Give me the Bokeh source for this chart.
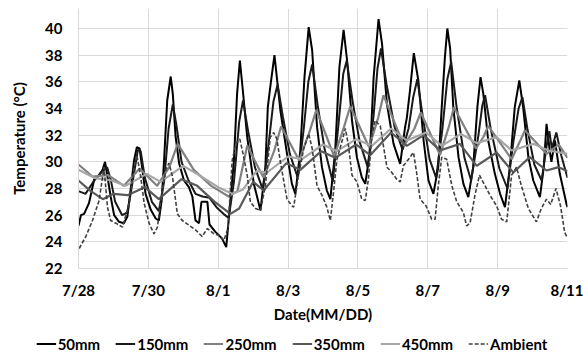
from bokeh.plotting import figure
from bokeh.models import Legend, LegendItem, FixedTicker, Range1d
from bokeh.layouts import column
from bokeh.embed import file_html
from bokeh.resources import INLINE

# ---- data (time in days from 7/28 00:00, temperature in degC) ----
tick_days = [0, 2, 4, 6, 8, 10, 12, 14]
tick_labels = ["7/28", "7/30", "8/1", "8/3", "8/5", "8/7", "8/9", "8/11"]
temp_ticks = [22, 24, 26, 28, 30, 32, 34, 36, 38, 40]

t_50 = [0.00, 0.07, 0.16, 0.30, 0.45, 0.59, 0.69, 0.76, 0.83, 0.92, 1.02, 1.16, 1.30, 1.40, 1.50,
        1.59, 1.67, 1.75, 1.83, 1.92, 2.07, 2.21, 2.30, 2.38, 2.45, 2.54, 2.64, 2.70, 2.78, 2.88,
        3.02, 3.16, 3.26, 3.35, 3.45, 3.52, 3.69, 3.75, 3.92, 4.11, 4.23, 4.35, 4.45, 4.54, 4.62,
        4.70, 4.83, 5.02, 5.21, 5.35, 5.42, 5.49, 5.61, 5.78, 5.97, 6.11, 6.21, 6.35, 6.47, 6.59,
        6.69, 6.83, 6.97, 7.11, 7.21, 7.35, 7.47, 7.59, 7.69, 7.83, 7.97, 8.11, 8.21, 8.35, 8.45,
        8.59, 8.69, 8.83, 9.02, 9.21, 9.35, 9.40, 9.49, 9.60, 9.73, 9.88, 10.02, 10.16, 10.30, 10.40,
        10.49, 10.56, 10.64, 10.73, 10.88, 11.02, 11.16, 11.30, 11.42, 11.51, 11.59, 11.73, 11.92,
        12.07, 12.21, 12.35, 12.49, 12.62, 12.73, 12.88, 13.02, 13.21, 13.32, 13.40, 13.49, 13.54,
        13.64, 13.78, 13.97, 14.00]
v_50 = [25.2, 26.0, 26.1, 26.9, 28.7, 29.0, 29.4, 30.0, 28.9, 27.4, 26.0, 25.5, 25.4, 25.9, 28.1,
        30.1, 31.1, 31.0, 29.4, 27.6, 26.4, 25.75, 25.6, 27.1, 30.1, 34.6, 36.4, 35.1, 31.9, 29.9,
        28.6, 28.1, 27.4, 25.6, 25.4, 27.0, 27.0, 25.3, 24.75, 24.25, 23.6, 27.1, 30.1, 35.1, 37.6,
        35.5, 31.85, 28.35, 26.35, 29.6, 34.1, 35.6, 38.0, 33.85, 30.6, 28.35, 27.6, 30.85, 36.35, 40.1,
        38.35, 32.6, 29.6, 27.85, 27.2, 30.85, 37.1, 39.9, 37.6, 33.1, 30.35, 28.85, 28.35, 30.85, 36.35,
        40.7, 38.85, 34.35, 31.35, 29.85, 32.6, 33.3, 35.35, 38.15, 36.1, 31.6, 28.6, 27.6, 29.6, 34.1,
        37.85, 40.0, 38.5, 34.1, 30.35, 28.35, 27.35, 29.6, 34.1, 36.35, 35.1, 31.6, 29.1,
        27.6, 26.6, 29.6, 34.1, 36.1, 34.1, 30.35, 28.6, 27.35, 29.6, 32.85, 30.85, 30.0,
        31.6, 29.1, 26.85, 26.6]

t_150 = [0.00, 0.20, 0.45, 0.65, 0.82, 0.92, 1.05, 1.25, 1.40, 1.55, 1.70, 1.78, 1.90, 2.10, 2.30,
         2.45, 2.58, 2.70, 2.80, 2.95, 3.15, 3.35, 3.55, 3.75, 3.95, 4.15, 4.30, 4.45, 4.60, 4.71,
         4.85, 5.05, 5.28, 5.45, 5.58, 5.70, 5.85, 6.05, 6.28, 6.45, 6.58, 6.69, 6.85, 7.05, 7.28,
         7.45, 7.58, 7.68, 7.85, 8.05, 8.28, 8.45, 8.56, 8.66, 8.82, 9.05, 9.28, 9.45, 9.58, 9.70,
         9.85, 10.05, 10.24, 10.42, 10.56, 10.67, 10.82, 11.05, 11.24, 11.45, 11.56, 11.64, 11.80,
         12.05, 12.28, 12.45, 12.60, 12.71, 12.85, 13.05, 13.26, 13.42, 13.48, 13.55, 13.68, 13.82, 14.00]
v_150 = [27.8, 27.6, 28.6, 29.2, 29.6, 28.7, 27.0, 26.0, 26.2, 28.5, 30.9, 30.8, 28.8, 27.0, 26.3,
         28.5, 32.5, 34.3, 32.8, 30.0, 28.6, 27.6, 27.4, 27.3, 26.6, 26.1, 25.8, 28.5, 33.0, 34.6,
         32.4, 29.6, 27.9, 31.5, 34.5, 35.8, 33.4, 30.6, 28.8, 32.5, 36.0, 37.3, 34.2, 30.9, 28.5,
         33.0, 36.6, 37.6, 34.5, 31.5, 29.6, 33.5, 37.0, 38.5, 35.8, 32.6, 30.9, 32.5, 34.8, 36.2,
         33.5, 30.2, 28.8, 32.5, 36.2, 37.5, 34.2, 30.3, 28.6, 32.0, 34.2, 35.0, 32.5,
         29.5, 28.0, 31.5, 34.0, 34.85, 32.5, 29.8, 28.6, 31.5, 32.3, 31.0, 32.2, 30.5, 28.8]

t_250 = [0.00, 0.40, 0.85, 1.30, 1.75, 2.25, 2.60, 2.84, 3.30, 3.80, 4.30, 4.55, 4.83, 5.30, 5.60,
         5.80, 6.32, 6.62, 6.81, 7.32, 7.60, 7.78, 8.32, 8.58, 8.73, 9.32, 9.62, 9.80, 10.35, 10.60,
         10.75, 11.38, 11.60, 11.73, 12.40, 12.65, 12.78, 13.40, 13.75, 14.00]
v_250 = [29.8, 28.9, 29.0, 28.2, 29.5, 28.2, 29.6, 31.35, 29.4, 28.2, 27.4, 27.8, 31.2, 28.8, 30.8,
         32.65, 30.1, 32.3, 33.9, 30.4, 32.6, 34.15, 31.1, 33.3, 35.0, 31.2, 32.5, 33.7, 30.5, 32.6,
         34.1, 31.0, 31.9, 32.7, 30.2, 31.6, 32.35, 30.6, 31.3, 30.3]

t_350 = [0.00, 0.35, 0.70, 1.00, 1.40, 1.90, 2.30, 2.95, 3.40, 3.90, 4.35, 4.60, 5.00, 5.30, 5.95,
         6.35, 6.95, 7.35, 7.95, 8.35, 8.95, 9.40, 9.88, 10.35, 10.92, 11.40, 11.97, 12.45, 12.92,
         13.40, 13.75, 14.00]
v_350 = [28.6, 27.8, 27.2, 27.6, 27.5, 28.1, 27.2, 28.7, 28.2, 27.0, 26.1, 26.5, 28.5, 27.85, 29.9,
         29.4, 30.8, 30.3, 31.3, 30.5, 32.2, 31.2, 32.0, 30.85, 31.35, 29.7, 30.7, 29.2, 30.35,
         29.35, 29.6, 29.3]

t_450 = [0.00, 0.45, 0.95, 1.35, 1.95, 2.35, 3.00, 3.45, 4.00, 4.40, 4.70, 5.10, 5.40, 6.00, 6.40,
         7.00, 7.40, 7.95, 8.40, 8.95, 9.40, 9.95, 10.40, 10.95, 11.40, 11.97, 12.40, 13.02, 13.45, 14.00]
v_450 = [29.4, 28.8, 28.6, 28.2, 29.1, 28.5, 29.7, 29.0, 28.1, 27.6, 27.9, 29.3, 29.2, 30.4, 30.2,
         31.3, 30.8, 31.7, 31.2, 32.5, 31.6, 32.2, 31.2, 32.1, 31.4, 31.85, 30.85, 31.35, 30.85, 30.6]

t_amb = [0.02, 0.21, 0.40, 0.59, 0.73, 0.83, 0.92, 1.07, 1.26, 1.45, 1.59, 1.67, 1.78, 1.88, 2.02,
         2.16, 2.26, 2.38, 2.50, 2.59, 2.69, 2.83, 2.97, 3.16, 3.35, 3.54, 3.69, 3.88, 4.02, 4.16,
         4.28, 4.40, 4.51, 4.62, 4.72, 4.83, 4.92, 5.07, 5.21, 5.35, 5.49, 5.59, 5.68, 5.78, 5.88,
         5.97, 6.11, 6.16, 6.30, 6.45, 6.59, 6.69, 6.83, 6.97, 7.11, 7.21, 7.30, 7.40, 7.54, 7.64,
         7.73, 7.83, 7.97, 8.11, 8.21, 8.30, 8.40, 8.49, 8.64, 8.73, 8.83, 8.97, 9.11, 9.21, 9.30,
         9.45, 9.59, 9.68, 9.78, 9.95, 10.11, 10.21, 10.30, 10.40, 10.54, 10.69, 10.83, 11.02, 11.11,
         11.21, 11.35, 11.48, 11.64, 11.78, 11.97, 12.11, 12.26, 12.40, 12.54, 12.68, 12.88, 13.11,
         13.25, 13.40, 13.52, 13.67, 13.80, 13.92, 14.00]
v_amb = [23.5, 24.4, 25.6, 27.1, 29.6, 26.6, 25.6, 25.4, 25.1, 26.9, 29.6, 30.5, 28.9, 26.9, 25.4,
         24.6, 25.1, 27.6, 29.4, 29.9, 28.9, 26.1, 25.6, 25.25, 24.9, 24.4, 25.0, 24.6, 24.5, 24.1,
         25.0, 30.1, 31.4, 31.7, 30.5, 29.0, 27.0, 26.5, 26.35, 28.2, 31.85, 32.2, 31.7, 30.0, 28.5,
         27.2, 26.7, 26.6, 29.0, 31.0, 32.1, 31.0, 28.2, 27.5, 26.6, 25.6, 27.7, 30.2, 31.5, 32.5,
         31.2, 29.0, 28.5, 27.2, 27.1, 28.7, 32.0, 33.1, 32.7, 31.2, 29.6, 29.2, 28.7, 28.5, 29.7,
         30.2, 30.7, 29.2, 27.2, 26.7, 25.7, 25.7, 28.2, 30.35, 30.2, 28.2, 27.0, 26.2, 25.2,
         25.4, 27.5, 29.0, 28.2, 27.5, 26.7, 25.7, 25.5, 29.0, 29.6, 28.2, 26.5, 25.5,
         26.5, 27.2, 26.8, 28.0, 26.7, 24.7, 24.3]

series_names = ["50mm", "150mm", "250mm", "350mm", "450mm", "Ambient"]
series_t = [t_50, t_150, t_250, t_350, t_450, t_amb]
series_v = [v_50, v_150, v_250, v_350, v_450, v_amb]
series_color = ["#000000", "#1a1a1a", "#808080", "#595959", "#a6a6a6", "#404040"]
series_width = [2, 2, 2.2, 2.2, 2.2, 1.6]
series_dash = ["solid", "solid", "solid", "solid", "solid", "4 2"]

FONT = "Lato"
grid_col = "#d9d9d9"

# ---- main chart ----
p = figure(width=583, height=332, output_backend="svg", toolbar_location=None,
           x_range=Range1d(0, 14), y_range=Range1d(22, 41.5),
           min_border_left=78, min_border_right=16, min_border_top=8, min_border_bottom=64)
p.outline_line_color = None
p.background_fill_color = "white"

for t, v, c, w, d in zip(series_t, series_v, series_color, series_width, series_dash):
    p.line(t, v, line_color=c, line_width=w, line_dash=d)

p.xaxis.ticker = FixedTicker(ticks=tick_days)
p.xaxis.major_label_overrides = {d: l for d, l in zip(tick_days, tick_labels)}
p.yaxis.ticker = FixedTicker(ticks=temp_ticks)
p.xaxis.axis_label = "Date(MM/DD)"
p.yaxis.axis_label = "Temperature (\u00b0C)"

for ax in (p.xaxis, p.yaxis):
    ax.axis_line_color = grid_col
    ax.major_tick_line_color = None
    ax.minor_tick_line_color = None
    ax.major_tick_out = 0
    ax.major_tick_in = 0
    ax.minor_tick_out = 0
    ax.minor_tick_in = 0
    ax.major_label_text_font = FONT
    ax.major_label_text_font_style = "bold"
    ax.major_label_text_font_size = "15px"
    ax.major_label_text_color = "black"
    ax.axis_label_text_font = FONT
    ax.axis_label_text_font_style = "bold"
    ax.axis_label_text_font_size = "15px"
    ax.axis_label_text_color = "black"
p.yaxis.major_label_standoff = 16
p.yaxis.axis_label_standoff = 14
p.xaxis.major_label_standoff = 12
p.xaxis.axis_label_standoff = 3

p.xgrid.ticker = FixedTicker(ticks=tick_days)
p.ygrid.ticker = FixedTicker(ticks=temp_ticks)
p.grid.grid_line_color = grid_col
p.grid.grid_line_width = 1

# ---- legend strip (same series styles, drawn off-range so only the legend shows) ----
pl = figure(width=583, height=23, output_backend="svg", toolbar_location=None,
            x_range=Range1d(100, 101), y_range=Range1d(100, 101),
            x_axis_type=None, y_axis_type=None,
            min_border_left=0, min_border_right=0, min_border_top=0, min_border_bottom=0)
pl.outline_line_color = None
pl.grid.visible = False
items = []
for name, t, v, c, w, d in zip(series_names, series_t, series_v, series_color, series_width, series_dash):
    r = pl.line(t, v, line_color=c, line_width=w, line_dash=d)
    items.append(LegendItem(label=name, renderers=[r]))
legend = Legend(items=items, location="center", orientation="horizontal",
                label_text_font=FONT, label_text_font_style="bold", label_text_font_size="15px",
                label_text_color="black", glyph_width=20, glyph_height=15, label_height=15,
                label_standoff=2, spacing=15, padding=0, margin=0,
                border_line_color=None, background_fill_alpha=0)
pl.add_layout(legend, "center")

for f in (p, pl):
    try:
        f.frame_align = False
    except Exception:
        pass

layout = column(p, pl, spacing=0)
open("out.html", "w").write(file_html(layout, INLINE))
